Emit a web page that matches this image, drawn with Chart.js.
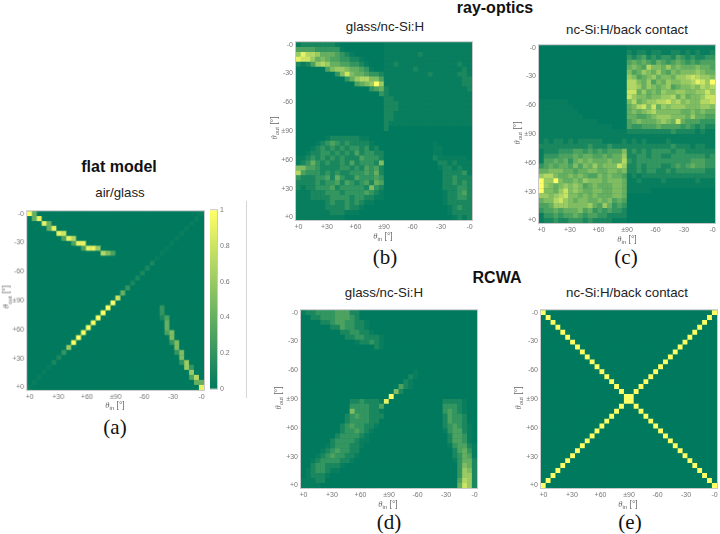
<!DOCTYPE html>
<html>
<head>
<meta charset="utf-8">
<title>Angular scattering matrices</title>
<script src="https://cdn.jsdelivr.net/npm/chart.js@4"></script>
<style>
  html, body { margin: 0; padding: 0; background: #fff; }
  #page { position: relative; width: 720px; height: 534px; overflow: hidden; font-family: "Liberation Sans", Arial, sans-serif; color: #111; }
  #page canvas { position: absolute; }
  .txt { position: absolute; transform: translate(-50%, -50%); white-space: nowrap; line-height: 1; }
  .head { font-size: 16px; font-weight: bold; }
  .sub { font-size: 13.3px; color: #222; }
  .letter { font-family: "Liberation Serif", "Times New Roman", serif; font-size: 21px; }
  .axis { font-size: 8.5px; color: #666; }
  .axis i { font-family: "Liberation Serif", serif; }
  .axis sub { font-size: 6px; line-height: 0; }
  .rot { transform: translate(-50%, -50%) rotate(-90deg); }
  #rule { position: absolute; left: 246px; top: 201px; width: 1px; height: 197px; background: #d6d6d6; }
</style>
</head>
<body>
<div id="page"><div id="rule"></div></div>
<script>
// angle bins are 5 degrees wide, 36 per axis
const TICK_POS = [0.5, 6.33, 12.17, 18, 23.83, 29.67, 35.5];
const X_TICKS = ['+0', '+30', '+60', '±90', '-60', '-30', '-0'];
const Y_TICKS = ['-0', '-30', '-60', '±90', '+60', '+30', '+0'];
const COLORBAR_RANGE = [0, 1];

// one string per theta_out row, one char per theta_in bin:
// '.' = 0, '-' = 0.03, 1-9 = tenths, 'a' = 1
const airGlass = [
  'a4.... ...... ...... ...... ...... .....-',
  '.49... ...... ...... ...... ...... ....-.',
  '...94. ...... ...... ...... ...... ...-..',
  '....49 ...... ...... ...... ...... ..-...',
  '...... 98.... ...... ...... ...... .-....',
  '...... .397.. ...... ...... ...... -.....',
  '...... ...399 ...... ...... .....- ......',
  '...... .....3 996... ...... ....-. ......',
  '...... ...... ...753 ...... ...-.. ......',
  '...... ...... ...... ...... ..-... ......',
  '...... ...... ...... ...... .1.... ......',
  '...... ...... ...... ...... 1..... ......',
  '...... ...... ...... .....1 ...... ......',
  '...... ...... ...... ....1. ...... ......',
  '...... ...... ...... ...1.. ...... ......',
  '...... ...... ...... ..2... ...... ......',
  '...... ...... ...... .4.... ...... ......',
  '...... ...... ...... 8..... ...... ......',
  '...... ...... .....a ...... ...... ......',
  '...... ...... ....a. ...... ...2.. ......',
  '...... ...... ...a.. ...... ...2.. ......',
  '...... ...... ..a... ...... ...13. ......',
  '...... ...... .a.... ...... ....4. ......',
  '...... ...... a..... ...... ....4. ......',
  '...... .....a ...... ...... ....35 ......',
  '...... ....a. ...... ...... .....5 ......',
  '...... ...a.. ...... ...... .....2 5.....',
  '...... ..6... ...... ...... ...... 5.....',
  '...... .2.... ...... ...... ...... 25....',
  '...... 1..... ...... ...... ...... .5....',
  '.....1 ...... ...... ...... ...... .26...',
  '....-. ...... ...... ...... ...... ..62..',
  '...-.. ...... ...... ...... ...... ...6..',
  '..-... ...... ...... ...... ...... ...37.',
  '.-.... ...... ...... ...... ...... ....44',
  '-..... ...... ...... ...... ...... .....9',
];

const rayGlassSi = [
  '-11111 11-... ...... ------ ------ ------',
  '333322 222-.. ...... ------ ------ ------',
  '697764 44321- ...... ------ -1---- ------',
  '988645 433221 1-.... ------ ------ ------',
  '1-1367 644332 21-... --1--- ------ ---1--',
  '...... 356654 432-.. ------ 1----- ----1-',
  '...... ..2585 443221 ------ ---1-- ---11-',
  '...... ....24 677553 ------ ------ ----11',
  '...... ...... 3456a6 ------ ------ ----11',
  '...... ...... ...234 1----- ------ -----1',
  '...... ...... .....2 1----- ------ ------',
  '...... ...... ...... 11---- ------ ------',
  '...... ...... ...... 111--- ------ ------',
  '...... ...... ...... 111--- ------ ------',
  '...... ...... ...... 11---- ------ ------',
  '...... ...... ...... 11---- ------ ------',
  '...... ...... ...... 1----- ------ ------',
  '...... ...... ...... 1..... ...... ......',
  '...... ...... ...... ...... ...... ......',
  '...... -11111 1--... ...... ...... ......',
  '....-1 232121 111-.. ...... ....-. ......',
  '...-12 121212 212-1. ...... ....-- ......',
  '..-112 212121 312211 ...... ....-- ......',
  '--1212 121211 132221 ...... ....1- -----.',
  '-12421 211213 122215 ...... .....1 1-1---',
  '553321 111221 213231 ...... .....- 11-1--',
  '732221 212112 223241 ...... ...... 11112-',
  '211122 314211 322232 ...... ...... 112111',
  '111121 223132 123143 ...... ...... 112121',
  '1-1122 231222 221521 ...... ...... 111221',
  '---111 222122 22321- ...... ...... -11231',
  '---111 122221 2211-- ...... ...... -11221',
  '------ 121121 21--.. ...... ...... -11111',
  '------ 111121 1-.... ...... ...... .-1211',
  '------ -111-- -..... ...... ...... .-1111',
  '------ ----.. ...... ...... ...... ..-1-1',
];

const raySiContact = [
  '...... ...... ...... ------ ------ ------',
  '...... ...... ...... 1-11-1 1--11- 1-1--1',
  '...... ...... ...... 212312 122132 121122',
  '...... ...... ...... 343432 432343 232333',
  '...... ...... ...... 454375 546454 445443',
  '...... ...... ...... 534654 643545 556544',
  '...... ...... ...... 653456 455466 787665',
  '...... ...... ...... 775463 546556 67986a',
  '...... ...... ...... 776465 456345 565767',
  '...... ...... ...... 884645 465566 556686',
  '...... ...... ...... 865545 566746 455688',
  '------ ...... ...... 574566 778675 655778',
  '------ -..... ...... 457858 465666 555665',
  '------ --.... ...... 454567 555554 454544',
  '------ ---... ...... 443345 666555 464433',
  '------ ------ ...... 345444 565484 333222',
  '------ ------ ---... 322333 433332 321211',
  '------ ------ ------ 111111 111211 11-1--',
  '------ ------ ------ ------ ------ ------',
  '-1-11- 1-1111 1----1 -1-1-- --1--- ------',
  '111111 111121 112111 111111 111211 1-11--',
  '-11122 233232 323335 121212 222122 111111',
  '-22233 343443 343446 112212 211222 222212',
  '-33434 245454 445447 212222 222222 233322',
  '234344 353546 455586 112122 211232 343322',
  '445554 434455 445545 112122 112122 222211',
  '677544 545433 545443 -1-111 111111 111111',
  'a66a54 454655 545554 --1--- -1---- --1---',
  'a65456 565345 444554 ------ ------ ------',
  'a55468 565445 544554 -----. ...... ......',
  '665678 554545 444554 ...... ...... ......',
  '455786 545544 545343 ...... ...... ......',
  '334666 555564 364232 ...... ...... ......',
  '233434 445342 323221 ...... ...... ......',
  '-22323 343233 221111 ...... ...... ......',
  '-11211 222121 111--- ...... ...... ......',
];

const rcwaGlassSi = [
  '-11222 233311 ...... ...... ...... ......',
  '..1122 233321 ...... ...... ...... ......',
  '....11 233221 1-.... ...... ...... ......',
  '...... 113221 1-.... ...... ...... ......',
  '...... ..1122 11-... ...... ...... ......',
  '...... ...112 2111-. ...... ...... ......',
  '...... .....- 1121-. ...... ...... ......',
  '...... ...... ...1-. ...... ...... ......',
  '...... ...... ...... ...... ...... ......',
  '...... ...... ...... ...... ...... ......',
  '...... ...... ...... ...... ...... ......',
  '...... ...... ...... ...... ...... ......',
  '...... ...... ...... .....- ...... ......',
  '...... ...... ...... ....1- ...... ......',
  '...... ...... ...... ...1-. ...... ......',
  '...... ...... ...... ..31-. ...... ......',
  '...... ...... ...... .51... ...... ......',
  '...... ...... ...... a..... ...... ......',
  '...... ....11 2111-9 ...... .....1 111-..',
  '...... ....22 22113. ...... .....2 221-..',
  '...... ....52 2211-. ...... .....2 321-..',
  '...... ...123 22111. ...... .....1 3221..',
  '...... ...122 2211.. ...... .....1 3221..',
  '...... ..1232 211-.. ...... .....1 2321-.',
  '...... ..1223 21-... ...... .....- 2331-.',
  '...... .12222 1-.... ...... ...... 1332-.',
  '...... 122221 --.... ...... ...... 1332-.',
  '.....- 122211 -..... ...... ...... -2331-',
  '....-1 232211 ...... ...... ...... .1342-',
  '...-12 32211- ...... ...... ...... .1243-',
  '..-122 2211-. ...... ...... ...... .-2441',
  '..1221 11-... ...... ...... ...... ..2541',
  '.-1221 --.... ...... ...... ...... ..2651',
  '.-111- ...... ...... ...... ...... ..2661',
  '---11. ...... ...... ...... ...... ..3761',
  '----.. ...... ...... ...... ...... ..4861',
];

const rcwaSiContact = [
  'a..... ...... ...... ...... ...... .....a',
  '.a.... ...... ...... ...... ...... ....a.',
  '..a... ...... ...... ...... ...... ...a..',
  '...a.. ...... ...... ...... ...... ..a...',
  '....a. ...... ...... ...... ...... .a....',
  '.....a ...... ...... ...... ...... a.....',
  '...... a..... ...... ...... .....a ......',
  '...... .a.... ...... ...... ....a. ......',
  '...... ..a... ...... ...... ...a.. ......',
  '...... ...a.. ...... ...... ..a... ......',
  '...... ....a. ...... ...... .a.... ......',
  '...... .....a ...... ...... a..... ......',
  '...... ...... a..... .....a ...... ......',
  '...... ...... .a.... ....a. ...... ......',
  '...... ...... ..a... ...a.. ...... ......',
  '...... ...... ...a.. ..a... ...... ......',
  '...... ...... ....a. .a.... ...... ......',
  '...... ...... .....a a..... ...... ......',
  '...... ...... .....a a..... ...... ......',
  '...... ...... ....a. .a.... ...... ......',
  '...... ...... ...a.. ..a... ...... ......',
  '...... ...... ..a... ...a.. ...... ......',
  '...... ...... .a.... ....a. ...... ......',
  '...... ...... a..... .....a ...... ......',
  '...... .....a ...... ...... a..... ......',
  '...... ....a. ...... ...... .a.... ......',
  '...... ...a.. ...... ...... ..a... ......',
  '...... ..a... ...... ...... ...a.. ......',
  '...... .a.... ...... ...... ....a. ......',
  '...... a..... ...... ...... .....a ......',
  '.....a ...... ...... ...... ...... a.....',
  '....a. ...... ...... ...... ...... .a....',
  '...a.. ...... ...... ...... ...... ..a...',
  '..a... ...... ...... ...... ...... ...a..',
  '.a.... ...... ...... ...... ...... ....a.',
  'a..... ...... ...... ...... ...... .....a',
];

const page = document.getElementById('page');
const TICK_FONT = { family: '"Liberation Sans", Arial, sans-serif', size: 7 };
const TICK_COLOR = '#777';
const MARGIN = { left: 30, top: 4, right: 6, bottom: 16 };

// summer-style colormap
const levelColor = (v) => {
  const r = Math.round(255 * v);
  const g = Math.round(122 + 133 * v);
  const b = Math.round(94 + 8 * v);
  return `rgb(${r},${g},${b})`;
};

const parseLevel = (c) => (c === '.' ? 0 : c === '-' ? 0.03 : c === 'a' ? 1 : Number(c) / 10);

const toCells = (rows) => {
  const cells = [];
  rows.forEach((row, y) => {
    row.replace(/ /g, '').split('').forEach((c, x) => {
      cells.push({ x: x + 0.5, y: y + 0.5, v: parseLevel(c) });
    });
  });
  return cells;
};

/** Plot surface in the colormap's zero colour, so cell edges never show white. */
const surfacePlugin = {
  id: 'plotSurface',
  beforeDatasetsDraw: (chart) => {
    const { ctx, chartArea: a } = chart;
    ctx.save();
    ctx.fillStyle = levelColor(0);
    ctx.fillRect(a.left, a.top, a.right - a.left, a.bottom - a.top);
    ctx.restore();
  },
};

/** Thin light frame round the plot area. */
const framePlugin = {
  id: 'plotFrame',
  afterDraw: (chart) => {
    const { ctx, chartArea: a } = chart;
    ctx.save();
    ctx.strokeStyle = '#c9c9c9';
    ctx.lineWidth = 1;
    ctx.strokeRect(a.left - 0.5, a.top - 0.5, a.right - a.left + 1, a.bottom - a.top + 1);
    ctx.restore();
  },
};

const addCanvas = (left, top, width, height) => {
  const c = document.createElement('canvas');
  c.width = width;
  c.height = height;
  c.style.left = `${left}px`;
  c.style.top = `${top}px`;
  c.style.width = `${width}px`;
  c.style.height = `${height}px`;
  page.appendChild(c);
  return c;
};

const addText = (cls, html, x, y) => {
  const d = document.createElement('div');
  d.className = `txt ${cls}`;
  d.innerHTML = html;
  d.style.left = `${x}px`;
  d.style.top = `${y}px`;
  page.appendChild(d);
};

const heatAxis = (labels, pos) => ({
  type: 'linear',
  min: 0,
  max: 36,
  reverse: pos === 'left',
  border: { display: false },
  grid: { display: false, drawTicks: false },
  afterBuildTicks: (axis) => { axis.ticks = TICK_POS.map((value) => ({ value })); },
  afterFit: (axis) => {
    if (pos === 'left') axis.width = MARGIN.left;
    else axis.height = MARGIN.bottom;
  },
  ticks: {
    autoSkip: false,
    maxRotation: 0,
    padding: 3,
    color: TICK_COLOR,
    font: TICK_FONT,
    callback: (v, i) => labels[i],
  },
});

const heatPanel = (rows, box) => {
  const canvas = addCanvas(box.x - MARGIN.left, box.y - MARGIN.top,
    box.w + MARGIN.left + MARGIN.right, box.h + MARGIN.top + MARGIN.bottom);
  return new Chart(canvas, {
    type: 'scatter',
    data: {
      datasets: [{
        data: toCells(rows),
        pointStyle: 'rect',
        pointRadius: 3.75,
        pointBorderWidth: 0,
        pointBackgroundColor: (ctx) => levelColor(ctx.raw ? ctx.raw.v : 0),
        clip: 0,
      }],
    },
    plugins: [surfacePlugin, framePlugin],
    options: {
      responsive: false,
      animation: false,
      layout: { padding: { top: MARGIN.top, right: MARGIN.right } },
      plugins: { legend: { display: false }, tooltip: { enabled: false } },
      scales: { x: heatAxis(X_TICKS, 'bottom'), y: heatAxis(Y_TICKS, 'left') },
    },
  });
};

const colorbar = (box) => {
  const canvas = addCanvas(box.x, box.y - 6, box.w + 24, box.h + 12);
  return new Chart(canvas, {
    type: 'bar',
    data: {
      labels: [''],
      datasets: [{
        data: [COLORBAR_RANGE],
        barPercentage: 1,
        categoryPercentage: 1,
        backgroundColor: ({ chart }) => {
          const a = chart.chartArea;
          if (!a) return levelColor(0);
          const g = chart.ctx.createLinearGradient(0, a.bottom, 0, a.top);
          for (let i = 0; i <= 10; i++) g.addColorStop(i / 10, levelColor(i / 10));
          return g;
        },
      }],
    },
    plugins: [framePlugin],
    options: {
      responsive: false,
      animation: false,
      layout: { padding: { top: 6, bottom: 6 } },
      plugins: { legend: { display: false }, tooltip: { enabled: false } },
      scales: {
        x: { display: false },
        y: {
          position: 'right',
          min: 0,
          max: 1,
          border: { display: false },
          grid: { display: false, drawTicks: false },
          afterFit: (axis) => { axis.width = 24; },
          ticks: {
            stepSize: 0.2, padding: 3, color: TICK_COLOR, font: TICK_FONT,
            callback: (v) => String(Number(v.toFixed(1))),
          },
        },
      },
    },
  });
};

const THETA_IN = '<i>θ</i><sub>in</sub> [°]';
const THETA_OUT = '<i>θ</i><sub>out</sub> [°]';

heatPanel(airGlass, { x: 27, y: 208, w: 176.5, h: 181.5 });
heatPanel(rayGlassSi, { x: 296, y: 39, w: 176, h: 181 });
heatPanel(raySiContact, { x: 539, y: 42, w: 176, h: 181 });
heatPanel(rcwaGlassSi, { x: 301, y: 307, w: 176, h: 181 });
heatPanel(rcwaSiContact, { x: 541, y: 307, w: 176, h: 181 });
colorbar({ x: 210, y: 209, w: 7, h: 181 });

addText('head', 'flat model', 119, 167);
addText('head', 'ray-optics', 495, 8);
addText('head', 'RCWA', 497, 278);
addText('sub', 'air/glass', 120, 193);
addText('sub', 'glass/nc-Si:H', 385, 27);
addText('sub', 'nc-Si:H/back contact', 627, 30);
addText('sub', 'glass/nc-Si:H', 384, 293);
addText('sub', 'nc-Si:H/back contact', 627, 293);
addText('letter', '(a)', 115, 427);
addText('letter', '(b)', 385, 257);
addText('letter', '(c)', 626, 257);
addText('letter', '(d)', 389, 522);
addText('letter', '(e)', 630, 522);

addText('axis', THETA_IN, 115, 405);
addText('axis', THETA_IN, 383, 236);
addText('axis', THETA_IN, 627, 239);
addText('axis', THETA_IN, 388, 504);
addText('axis', THETA_IN, 628, 504);
addText('axis rot', THETA_OUT, 6, 297);
addText('axis rot', THETA_OUT, 274, 128);
addText('axis rot', THETA_OUT, 517, 133);
addText('axis rot', THETA_OUT, 278, 398);
addText('axis rot', THETA_OUT, 518, 398);
</script>
</body>
</html>
